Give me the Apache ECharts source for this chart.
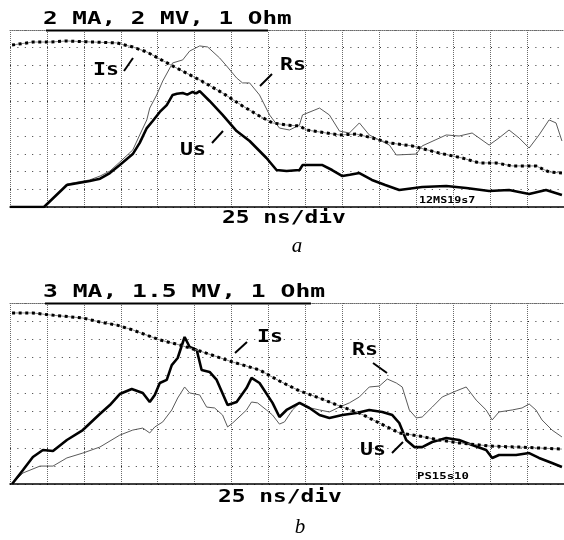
<!DOCTYPE html>
<html>
<head>
<meta charset="utf-8">
<script src="https://cdn.jsdelivr.net/npm/echarts@6/dist/echarts.min.js"></script>
<style>
html,body{margin:0;padding:0;background:#fff;}
#chart{width:564px;height:540px;}
</style>
</head>
<body>
<div id="chart"></div>
<script>
// ---- Panel a (2 MA, 2 MV, 1 Ohm), time in ns (25 ns/div), values in divisions ----
const timeUsA = [0,23,38.5,54,61,67.6,74.3,83.1,87.8,92.6,96.6,101.4,106.1,110.1,113,116.9,120,123.6,126,128.4,135.1,143.9,153.4,162.2,173.6,180.4,187.2,196,198,211.5,218,225,230,236.5,245,254,263.5,279,295.3,308.8,324.3,337.8,351.4,362.8,373.6];
const usA = [0,0,1.24,1.47,1.6,1.92,2.37,2.99,3.62,4.46,4.86,5.37,5.76,6.33,6.4,6.44,6.35,6.50,6.42,6.55,5.99,5.20,4.29,3.73,2.77,2.09,2.03,2.09,2.37,2.37,2.09,1.75,1.82,1.92,1.53,1.24,0.96,1.13,1.19,1.07,0.90,0.96,0.73,0.96,0.68];

const timeRsA = [0,23,38.5,54,61,67.6,74.3,83.1,87.8,92.6,94.6,99.3,103.4,110.1,116.9,121.6,128.4,133.8,141.9,146.6,153.4,157.4,162.2,168.9,175.7,182.4,189.2,195.9,198,209.5,216.2,223,229.7,236.5,243.2,256.8,261.5,275,279,295.3,304,312.8,324.3,331,337.8,344.6,351.4,358.1,364.9,369.6,373.6];
const rsA = [0,0,1.30,1.53,1.75,2.03,2.54,3.22,4.07,4.92,5.59,6.33,7.12,8.14,8.31,8.81,9.10,9.04,8.42,7.97,7.29,7.01,7.01,6.33,5.20,4.46,4.35,4.63,5.20,5.59,5.20,4.29,4.18,4.75,4.07,3.50,2.94,2.99,3.45,4.07,4.01,4.18,3.50,3.90,4.35,3.90,3.33,4.07,4.92,4.75,3.73];

const timeIsA = [1.4,15.5,27,38.5,56,72.3,83.1,92.6,101.4,112.8,128.4,143.9,157.4,168.9,177.7,187.2,195.9,200.7,223,234.5,245.3,256.8,272.3,290.5,306,317.6,329,339.9,356,364.9,373.6];
const isA = [9.15,9.32,9.32,9.38,9.32,9.27,9.04,8.76,8.36,7.85,7.18,6.44,5.71,5.14,4.75,4.63,4.58,4.35,4.07,4.12,3.90,3.62,3.45,3.05,2.77,2.49,2.49,2.32,2.32,1.98,1.92];

// ---- Panel b (3 MA, 1.5 MV, 1 Ohm) ----
const timeUsB = [1.4,8.8,15.5,22.3,29.1,38.5,49.3,60.8,67.6,74.3,82.4,89.9,94.6,98,101.4,106.1,109.5,113.5,118.2,121.6,126.4,129.7,135.1,139.9,147.3,153.4,160.1,163.5,168.9,177.7,182.4,187.2,196,202.7,209.5,216.2,225,234.5,243.2,252,258.8,263.5,268.2,273.7,279,285.8,295.3,304,312.8,322.3,326.4,331,342.6,351.4,358.1,366.9,373.6];
const usB = [0,0.77,1.49,1.88,1.82,2.43,2.98,3.87,4.36,4.97,5.25,5.03,4.53,4.92,5.58,5.75,6.57,6.96,8.12,7.57,7.40,6.30,6.19,5.75,4.36,4.53,5.30,5.86,5.58,4.48,3.70,4.09,4.48,4.20,3.81,3.65,3.81,3.92,4.09,3.98,3.81,3.37,2.43,2.04,2.04,2.32,2.54,2.43,2.15,1.88,1.44,1.60,1.60,1.71,1.44,1.16,0.94];

const timeRsB = [1.4,8.8,20.3,29.1,38.5,49.3,60.8,74.3,83.1,89.9,94.6,98,103.4,109.5,113.5,118.2,121.6,128.4,133.1,138.5,143.9,147.3,150.7,160.1,163.5,167.6,173.6,177.7,182.4,185.8,191.2,196,200.7,209.5,216.2,223,229.7,236.5,243.2,250,255.4,261.5,265.5,270.3,275,279,285.8,292.6,302,308.8,315.5,322.3,326.4,331,339.9,346.6,351.4,356,360.1,366.9,373.6];
const rsB = [0,0.61,0.99,0.99,1.44,1.71,2.04,2.70,2.98,3.09,2.82,3.15,3.43,4.09,4.75,5.36,5.03,4.92,4.25,4.20,3.81,3.15,3.37,4.09,4.53,4.48,4.09,3.81,3.31,3.43,4.09,4.48,4.25,4.09,3.98,4.25,4.48,4.81,5.36,5.41,5.80,5.58,5.36,4.09,3.65,3.70,4.25,4.81,5.14,5.36,4.64,4.09,3.54,3.98,4.09,4.20,4.42,4.09,3.54,2.98,2.60];

const timeIsB = [1.4,15.5,27,49.3,60.8,72.3,83.1,101.4,114.9,128.4,150.7,168.9,182.4,196,209.5,223,236.5,250,263.5,277,290.5,304,324.3,344.6,373.6];
const isB = [9.45,9.45,9.34,9.17,8.95,8.78,8.51,7.96,7.68,7.35,6.74,6.30,5.69,5.14,4.75,4.31,3.92,3.37,2.82,2.65,2.43,2.27,2.10,2.04,1.93];

// axis ranges / labels
const timeMax = 375, timeStep = 25;   // 15 divisions of 25 ns
const divMax = 10, divStep = 1;
const titleA = '2 MA, 2 MV, 1 Ohm';
const titleB = '3 MA, 1.5 MV, 1 Ohm';
const timebase = '25 ns/div';
const shotA = '12MS19s7';
const shotB = 'PS15s10';

function zip(t, v) { return t.map((x, i) => [x, v[i]]); }

const chart = echarts.init(document.getElementById('chart'), null, {renderer: 'canvas'});

function xAxes(gridIndex) {
  return [
    {
      gridIndex, type: 'value', min: 0, max: timeMax, interval: timeStep, position: 'bottom',
      axisLine: {show: true, onZero: false, lineStyle: {color: '#000', width: 1.5}},
      axisTick: {show: false}, axisLabel: {show: false},
      splitLine: {show: true, lineStyle: {color: '#6a6a6a', width: 1, type: [1, 1]}}
    },
    {
      gridIndex, type: 'value', min: 0, max: timeMax, interval: timeStep, position: 'top',
      axisLine: {show: true, onZero: false, lineStyle: {color: '#6a6a6a', width: 1, type: [1, 1]}},
      axisTick: {show: false}, axisLabel: {show: false}, splitLine: {show: false}
    }
  ];
}
function yAxis(gridIndex) {
  return {
    gridIndex, type: 'value', min: 0, max: divMax, interval: divStep,
    axisLine: {show: false}, axisTick: {show: false}, axisLabel: {show: false},
    splitLine: {show: true, lineStyle: {color: '#333', width: 1, type: [1, 6.4]}}
  };
}

function seriesFor(xIdx, yIdx, tr, r, tu, u, ti, i) {
  const base = {type: 'line', xAxisIndex: xIdx, yAxisIndex: yIdx, showSymbol: false, symbol: 'none', animation: false, silent: true};
  return [
    Object.assign({}, base, {name: 'Rs', data: zip(tr, r), lineStyle: {color: '#5a5a5a', width: 1}, z: 2}),
    Object.assign({}, base, {name: 'Us', data: zip(tu, u), lineStyle: {color: '#000', width: 2.6}, z: 3}),
    Object.assign({}, base, {name: 'Is', data: zip(ti, i), lineStyle: {color: '#8a8a8a', width: 1}, z: 4}),
    Object.assign({}, base, {name: 'Is', data: zip(ti, i), lineStyle: {color: '#000', width: 3, type: [3, 3.6]}, z: 5})
  ];
}

const monoBold = (size) => 'bold ' + size + 'px "DejaVu Sans Mono"';

function txt(text, x, y, size, sx) {
  return {
    type: 'text', x: x, y: y, scaleX: sx, z: 100,
    style: {text: text, font: monoBold(size), fill: '#000',
      textAlign: 'left', textVerticalAlign: 'middle', align: 'left', verticalAlign: 'middle'}
  };
}
function seg(x1, y1, x2, y2, w) {
  return {type: 'line', z: 100, shape: {x1, y1, x2, y2}, style: {stroke: '#000', lineWidth: w}};
}
function italic(text, x, y) {
  return {
    type: 'text', x: x, y: y, z: 100,
    style: {text: text, font: 'italic 21px "Liberation Serif"', fill: '#000',
      textAlign: 'center', textVerticalAlign: 'middle', align: 'center', verticalAlign: 'middle'}
  };
}

const graphics = [
  // panel a
  txt(titleA, 43, 19, 18, 1.35),
  seg(46, 30.5, 268, 30.5, 2),
  txt(timebase, 222, 218, 18, 1.27),
  txt(shotA, 419, 201, 9, 1.3),
  italic('a', 297, 246),
  txt('Is', 93, 70, 18, 1.2), seg(124, 71, 133, 58, 2),
  txt('Rs', 280, 65, 18, 1.2), seg(260, 86, 272, 74, 2),
  txt('Us', 180, 150, 18, 1.2), seg(212, 143, 223, 131, 2),
  // panel b
  txt(titleB, 43, 292, 18, 1.37),
  seg(45, 303.5, 311, 303.5, 2),
  txt(timebase, 218, 497, 18, 1.27),
  txt(shotB, 417, 477, 9, 1.37),
  italic('b', 300, 527),
  txt('Is', 257, 337, 18, 1.2), seg(235, 353, 247, 342, 2),
  txt('Rs', 352, 350, 18, 1.2), seg(373, 363, 387, 373, 2),
  txt('Us', 360, 450, 18, 1.2), seg(392, 453, 403, 442, 2)
];

const option = {
  backgroundColor: '#fff',
  animation: false,
  grid: [
    {left: 10, top: 30, width: 555, height: 177},
    {left: 10, top: 303, width: 555, height: 181}
  ],
  xAxis: xAxes(0).concat(xAxes(1)),
  yAxis: [yAxis(0), yAxis(1)],
  series: seriesFor(0, 0, timeRsA, rsA, timeUsA, usA, timeIsA, isA)
    .concat(seriesFor(2, 1, timeRsB, rsB, timeUsB, usB, timeIsB, isB)),
  graphic: graphics
};
chart.setOption(option);
</script>
</body>
</html>
